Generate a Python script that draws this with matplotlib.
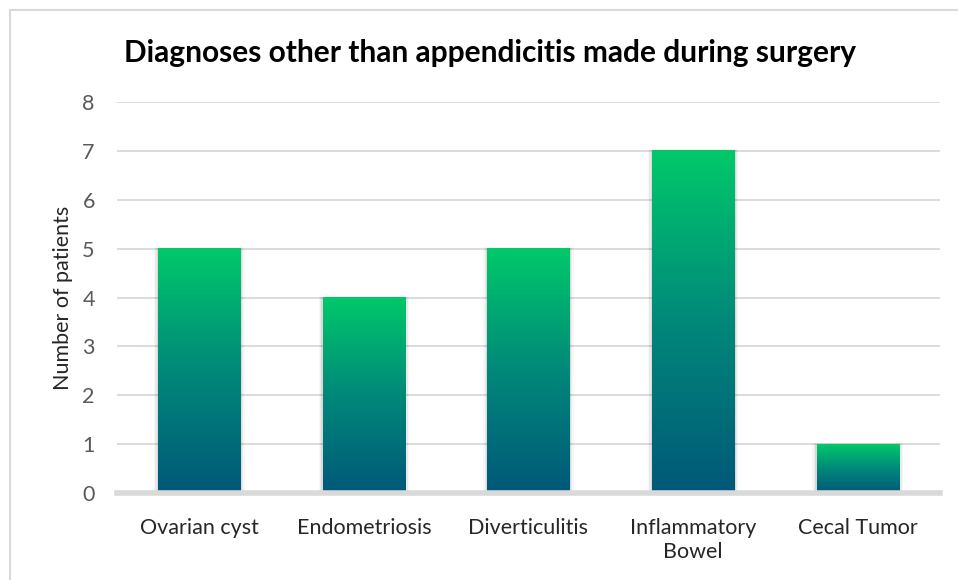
import matplotlib.pyplot as plt
import numpy as np
from matplotlib.colors import LinearSegmentedColormap
from matplotlib.patches import Rectangle

categories = ["Ovarian cyst", "Endometriosis", "Diverticulitis", "Inflammatory\nBowel", "Cecal Tumor"]
patients = [5, 4, 5, 7, 1]
yticks = [0, 1, 2, 3, 4, 5, 6, 7, 8]

plt.rcParams['font.family'] = ['Lato', 'DejaVu Sans']

fig = plt.figure(figsize=(9.58, 5.8), dpi=100)
ax = fig.add_axes([117 / 958, 87 / 580, 823 / 958, 391 / 580])

# rahmen um das diagramm
fig.patches.append(Rectangle((10 / 958, -0.1), 1.2, (570 / 580) + 0.1, transform=fig.transFigure,
                             fill=False, edgecolor='#D9D9D9', linewidth=1.5))

cmap = LinearSegmentedColormap.from_list('grad', ['#005878', '#00887A', '#00C96A'])
grad = np.linspace(0, 1, 256).reshape(-1, 1)

x = np.arange(len(categories))
breite = 0.5
bars = ax.bar(x, patients, width=breite, color='none', zorder=3)
for b in bars:
    x0, w, h = b.get_x(), b.get_width(), b.get_height()
    # leichter schatten
    for k, a in zip([0.05, 0.033, 0.016], [0.03, 0.05, 0.07]):
        ax.add_patch(Rectangle((x0 - k * 0.5, 0), w + k, h + k * 0.6, color='black', alpha=a,
                               linewidth=0, zorder=2))
    ax.imshow(grad, cmap=cmap, origin='lower', aspect='auto',
              extent=(x0, x0 + w, 0, h), zorder=3)

ax.set_xlim(-0.5, len(categories) - 0.5)
ax.set_ylim(0, 8)
ax.set_yticks(yticks)
ax.set_xticks(x)
ax.set_xticklabels(categories, fontsize=15.5, color='#262626', linespacing=1.25)
ax.tick_params(axis='y', length=0, pad=16, labelsize=15.5, labelcolor='#595959')
ax.tick_params(axis='x', length=0, pad=18)
ax.grid(axis='y', color='#D9D9D9', linewidth=1.3, zorder=0)
ax.set_axisbelow(True)
for s in ['top', 'right', 'left']:
    ax.spines[s].set_visible(False)
ax.spines['bottom'].set_color('#D9D9D9')
ax.spines['bottom'].set_linewidth(4)
ax.spines['bottom'].set_zorder(4)

ax.set_ylabel("Number of patients", fontsize=15.5, color='#262626', labelpad=7)
fig.text(490 / 958, 1 - 53 / 580, "Diagnoses other than appendicitis made during surgery",
         fontsize=21.5, fontweight='bold', ha='center', va='center', color='black')

fig.savefig("out.png", dpi=100)
